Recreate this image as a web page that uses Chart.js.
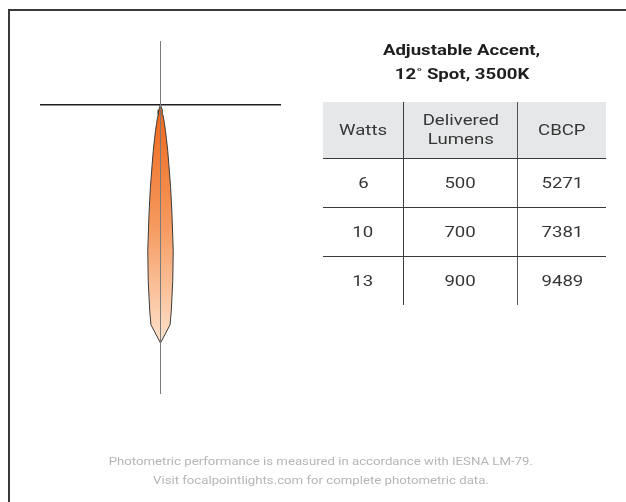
<!DOCTYPE html>
<html>
<head>
<meta charset="utf-8">
<script src="https://cdn.jsdelivr.net/npm/chart.js@4.4.0/dist/chart.umd.min.js"></script>
<style>
  html, body { margin: 0; padding: 0; background: #fff; overflow: hidden; }
  body { width: 626px; height: 502px; position: relative; font-family: Roboto, "Liberation Sans", sans-serif; }
  .edge { position: absolute; background: #3a3a3a; }
  #edgeTop { left: 8px; top: 9px; width: 618px; height: 2px; }
  #edgeLeft { left: 8px; top: 9px; width: 2px; height: 493px; }
  #beam { position: absolute; left: 0; top: 0; }
  .w { display: inline-block; transform: scaleX(1.2); transform-origin: center; white-space: nowrap; }
  #title { position: absolute; left: 342px; width: 240px; top: 39px; text-align: center; font-weight: bold; font-size: 15.5px; line-height: 23.5px; color: #1e1e1e; }
  #tbl { position: absolute; left: 323px; top: 102px; border-collapse: collapse; color: #363636; font-size: 15.5px; }
  #tbl td, #tbl th { padding: 0; text-align: center; font-weight: normal; }
  #tbl th { background: #e6e7e8; height: 56px; line-height: 19px; border-bottom: 1.5px solid #3a3a3a; }
  #tbl td { height: 48px; }
  #tbl tr.row td { border-bottom: 1.5px solid #3a3a3a; }
  #tbl .c1 { border-right: 1.5px solid #3a3a3a; }
  #tbl .c2 { border-right: 1.5px solid #555; }
  #note { position: absolute; left: 121px; width: 400px; top: 452px; text-align: center; font-size: 11px; line-height: 19px; color: #b5b5b5; }
</style>
</head>
<body>
<div class="edge" id="edgeTop"></div>
<div class="edge" id="edgeLeft"></div>
<canvas id="beam" width="626" height="502"></canvas>
<div id="title"><span class="w">Adjustable Accent,</span><br><span class="w">12˚ Spot, 3500K</span></div>
<table id="tbl"><thead></thead><tbody></tbody></table>
<div id="note"><span class="w">Photometric performance is measured in accordance with IESNA LM-79.</span><br><span class="w">Visit focalpointlights.com for complete photometric data.</span></div>
<script>
// beam data (angle from nadir in degrees, candela at that angle)
const angles = [0, 2.5, 3, 4, 5, 6, 7, 8, 9, 10, 11, 12, 13, 14, 15, 17.5, 20, 25, 30];
const candela = [9489, 8770, 8215, 7020, 5820, 4385, 3310, 2390, 1830, 1355, 1035, 760, 560, 400, 320, 200, 120, 40, 0];

// table data
const headers = ["Watts", "Delivered<br>Lumens", "CBCP"];
const watts = [6, 10, 13];
const lumens = [500, 700, 900];
const cbcp = [5271, 7381, 9489];

// ----------------- TABLE -----------------
const colW = [80, 113, 88];
const thead = document.querySelector("#tbl thead");
thead.innerHTML = "<tr>" + headers.map((h, i) =>
    `<th class="c${i + 1}" style="width:${colW[i]}px"><span class="w">${h}</span></th>`).join("") + "</tr>";

const tbody = document.querySelector("#tbl tbody");
watts.forEach((w, i) => {
    const tr = document.createElement("tr");
    if (i < watts.length - 1) tr.className = "row";
    tr.innerHTML = [w, lumens[i], cbcp[i]].map((v, j) =>
        `<td class="c${j + 1}"><span class="w">${v}</span></td>`).join("");
    tbody.appendChild(tr);
});

// ----------------- BEAM CHART -----------------
function polar(deg, cd, side) {
    const a = deg * Math.PI / 180;
    return { x: side * cd * Math.sin(a), y: -cd * Math.cos(a) };
}

const points = [];
for (let i = angles.length - 1; i >= 0; i--) points.push(polar(angles[i], candela[i], -1));
for (let i = 1; i < angles.length; i++) points.push(polar(angles[i], candela[i], 1));

const ctx = document.getElementById("beam").getContext("2d");

new Chart(ctx, {
    type: "scatter",
    data: {
        datasets: [{
            data: points,
            showLine: true,
            fill: "shape",
            tension: 0,
            pointRadius: 0,
            borderColor: "#3a3a3a",
            borderWidth: 1,
            backgroundColor: (c) => {
                const chart = c.chart;
                if (!chart.chartArea) return "#f08030";
                const y = chart.scales.y;
                const g = chart.ctx.createLinearGradient(0, y.getPixelForValue(0), 0, y.getPixelForValue(-candela[0]));
                g.addColorStop(0, "#ee6619");
                g.addColorStop(0.5, "#f5995e");
                g.addColorStop(1, "#fee2cc");
                return g;
            }
        }]
    },
    options: {
        responsive: false,
        animation: false,
        devicePixelRatio: 1,
        layout: { padding: { left: 41, top: 41, right: 346, bottom: 109 } },
        plugins: { legend: { display: false }, tooltip: { enabled: false } },
        scales: {
            x: {
                type: "linear",
                min: -4765,
                max: 4765,
                position: { y: 0 },
                grid: { display: false, drawTicks: false },
                ticks: { display: false },
                border: { display: true, color: "#1e1e1e", width: 1.5 }
            },
            y: {
                type: "linear",
                min: -11483,
                max: 2552,
                position: { x: 0 },
                grid: { display: false, drawTicks: false },
                ticks: { display: false },
                border: { display: true, color: "#7a7a7a", width: 1, z: 1 }
            }
        }
    }
});
</script>
</body>
</html>
